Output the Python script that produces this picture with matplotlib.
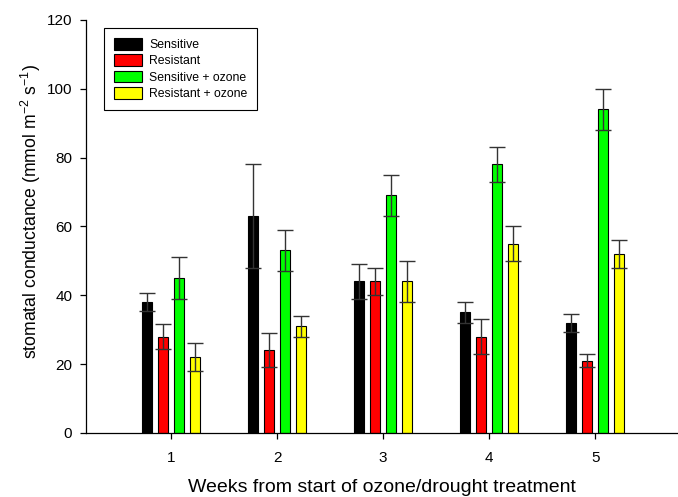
import numpy as np
import matplotlib
matplotlib.use("Agg")
from matplotlib import pyplot as plt

plt.rcParams["font.family"] = ["Liberation Sans", "DejaVu Sans"]
plt.rcParams["mathtext.fontset"] = "custom"
plt.rcParams["mathtext.rm"] = "Liberation Sans"

weeks = [1, 2, 3, 4, 5]
labels = ["Sensitive", "Resistant", "Sensitive + ozone", "Resistant + ozone"]
colors = ["#000000", "#ff0000", "#00ff00", "#ffff00"]

sensitive = [38, 63, 44, 35, 32]
sensitive_err = [2.6, 15, 5, 3, 2.6]
resistant = [28, 24, 44, 28, 21]
resistant_err = [3.6, 5, 4, 5, 2]
sensitive_ozone = [45, 53, 69, 78, 94]
sensitive_ozone_err = [6, 6, 6, 5, 6]
resistant_ozone = [22, 31, 44, 55, 52]
resistant_ozone_err = [4, 3, 6, 5, 4]

series = [sensitive, resistant, sensitive_ozone, resistant_ozone]
errors = [sensitive_err, resistant_err, sensitive_ozone_err, resistant_ozone_err]
offsets = [-0.225, -0.075, 0.075, 0.225]

fig = plt.figure(figsize=(6.78, 4.97), dpi=100)
ax = fig.add_axes([0.127, 0.129, 0.873, 0.831])

x = np.array(weeks, dtype=float)
for vals, errs, off, col, lab in zip(series, errors, offsets, colors, labels):
    ax.bar(x + off, vals, width=0.095, color=col, edgecolor="black",
           linewidth=0.8, label=lab, zorder=2)
    ax.errorbar(x + off, vals, yerr=errs, fmt="none", ecolor="#333333",
                elinewidth=1.0, capsize=5.5, capthick=1.0, zorder=3)

ax.set_xlim(0.2, 5.78)
ax.set_ylim(0, 120)
ax.set_xticks(weeks)
ax.set_yticks(range(0, 121, 20))

for side in ["top", "right"]:
    ax.spines[side].set_visible(False)
for side in ["left", "bottom"]:
    ax.spines[side].set_linewidth(0.9)

ax.tick_params(direction="out", length=4, width=0.9, labelsize=11, pad=6)
ax.tick_params(axis="x", pad=9)

ax.set_xlabel("Weeks from start of ozone/drought treatment", fontsize=14, labelpad=10)
ax.set_ylabel("stomatal conductance (mmol m$^{-2}$ s$^{-1}$)", fontsize=12.7)
ax.yaxis.set_label_coords(-0.073, 0.535)

ax.legend(loc="upper left", bbox_to_anchor=(0.02, 0.995), fontsize=8.8,
          frameon=True, fancybox=False, edgecolor="black", framealpha=1,
          handlelength=2.3, handleheight=1.1, labelspacing=0.28,
          borderpad=0.8, handletextpad=0.6)
leg = ax.get_legend()
leg.get_frame().set_linewidth(0.8)

plt.savefig("out.png", dpi=100)
